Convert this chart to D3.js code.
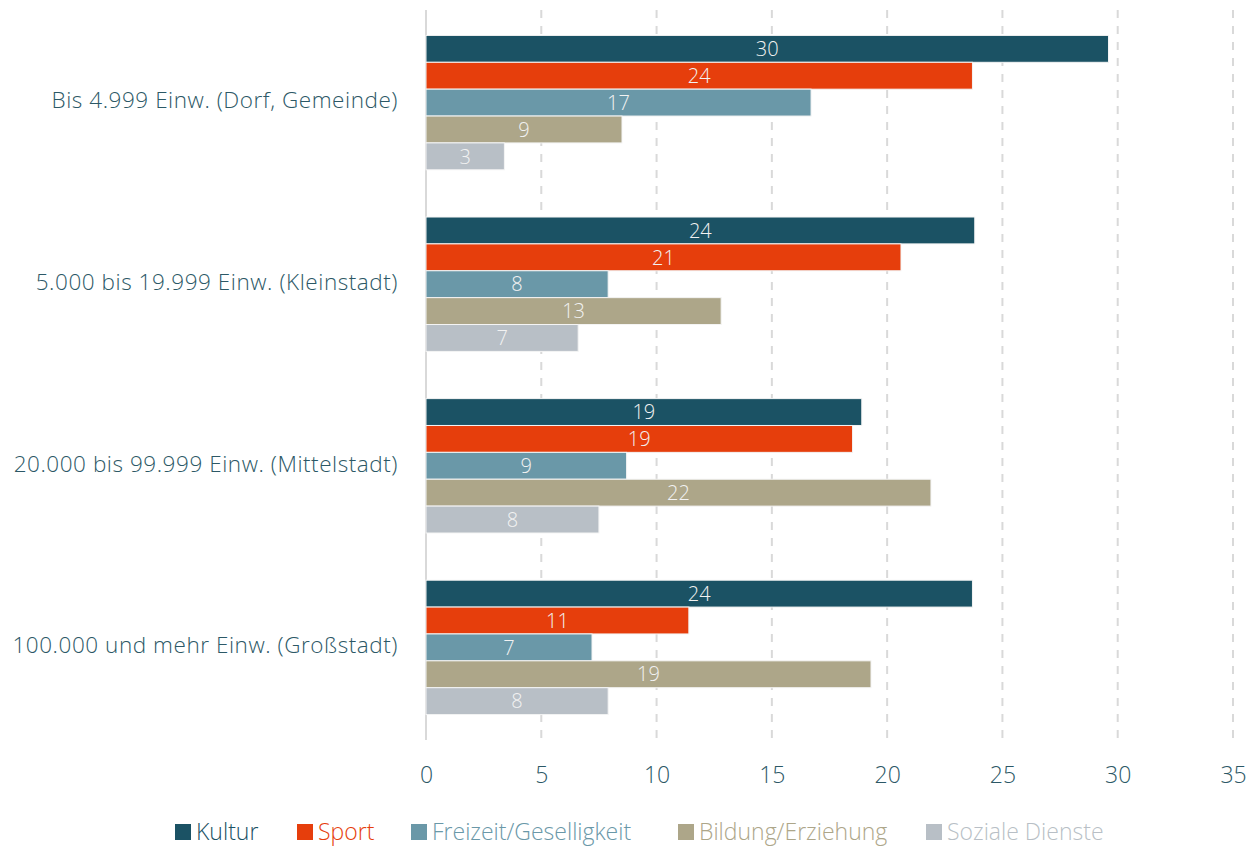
<!DOCTYPE html>
<html><head><meta charset="utf-8">
<script src="https://cdn.jsdelivr.net/npm/d3@7"></script>
<style>
body{margin:0;background:#fff;}
svg{display:block;font-family:"Open Sans", Lato, sans-serif;font-weight:300;}
</style></head>
<body><svg id="c" width="1255" height="846"></svg>
<script>
const categories = ["Bis 4.999 Einw. (Dorf, Gemeinde)", "5.000 bis 19.999 Einw. (Kleinstadt)", "20.000 bis 99.999 Einw. (Mittelstadt)", "100.000 und mehr Einw. (Großstadt)"];
const seriesNames = ["Kultur", "Sport", "Freizeit/Geselligkeit", "Bildung/Erziehung", "Soziale Dienste"];
const kultur = [29.6, 23.8, 18.9, 23.7];
const sport = [23.7, 20.6, 18.5, 11.4];
const freizeit = [16.7, 7.9, 8.7, 7.2];
const bildung = [8.5, 12.8, 21.9, 19.3];
const soziale = [3.4, 6.6, 7.5, 7.9];
const xTicks = [0, 5, 10, 15, 20, 25, 30, 35];
const colors = ["#1b5264", "#e63e0c", "#6a98a8", "#ada689", "#b8bfc6"];

const seriesValues = [kultur, sport, freizeit, bildung, soziale];
const svg = d3.select("#c");
const mLeft = 426, mRight = 1233, mTop = 10, mBottom = 740;

const x = d3.scaleLinear().domain([0, 35]).range([mLeft, mRight]);
const y0 = d3.scaleBand().domain(categories).range([mTop, mBottom]).paddingInner(0.26).paddingOuter(0.14);
const y1 = d3.scaleBand().domain(seriesNames).range([0, y0.bandwidth()]).padding(0.0);

// grid
svg.append("g").selectAll("line").data(xTicks.filter(d => d > 0)).join("line")
  .attr("x1", d => x(d)).attr("x2", d => x(d)).attr("y1", mTop).attr("y2", mBottom)
  .attr("stroke", "#d9d9d9").attr("stroke-width", 2).attr("stroke-dasharray", "8,8");
svg.append("line").attr("x1", mLeft).attr("x2", mLeft).attr("y1", mTop).attr("y2", mBottom)
  .attr("stroke", "#d9d9d9").attr("stroke-width", 2);

// bars
const groups = svg.append("g").selectAll("g").data(categories).join("g")
  .attr("transform", d => `translate(0,${y0(d)})`);
groups.each(function(cat, ci) {
  const g = d3.select(this);
  const rows = seriesNames.map((s, si) => ({s, si, v: seriesValues[si][ci]}));
  g.selectAll("rect").data(rows).join("rect")
    .attr("x", x(0)).attr("y", d => y1(d.s))
    .attr("width", d => x(d.v) - x(0)).attr("height", y1.bandwidth())
    .attr("fill", d => colors[d.si]).attr("stroke", "#f4f4f4").attr("stroke-width", 1);
  g.selectAll("text").data(rows).join("text")
    .attr("x", d => (x(0) + x(d.v)) / 2).attr("y", d => y1(d.s) + y1.bandwidth() / 2)
    .attr("dy", "0.36em").attr("text-anchor", "middle")
    .attr("fill", "#f2f2f2").attr("font-size", 20)
    .text(d => Math.round(d.v));
});

// category labels
svg.append("g").selectAll("text").data(categories).join("text")
  .attr("x", 398).attr("y", d => y0(d) + y0.bandwidth() / 2 - 2)
  .attr("dy", "0.35em").attr("text-anchor", "end")
  .attr("fill", "#2c5866").attr("font-size", 22.5).attr("letter-spacing", 0.55).text(d => d);

// x axis
const xAxis = d3.axisBottom(x).tickValues(xTicks).tickSize(0).tickPadding(0);
const ax = svg.append("g").attr("transform", `translate(0,${mBottom})`).call(xAxis);
ax.select(".domain").remove();
ax.selectAll("text").attr("y", 35).attr("dy", "0.35em").attr("font-size", 23)
  .attr("fill", "#2c5866").attr("font-family", "'Open Sans', sans-serif").attr("font-weight", 300);

// legend
const legendX = [175, 297, 411, 678, 926];
const lg = svg.append("g").selectAll("g").data(seriesNames).join("g")
  .attr("transform", (d, i) => `translate(${legendX[i]},832)`);
lg.append("rect").attr("x", 0).attr("y", -8).attr("width", 16).attr("height", 16)
  .attr("fill", (d, i) => colors[i]);
lg.append("text").attr("x", 21).attr("y", 0).attr("dy", "0.35em")
  .attr("font-size", 23).attr("fill", (d, i) => colors[i]).text(d => d);
</script></body></html>
